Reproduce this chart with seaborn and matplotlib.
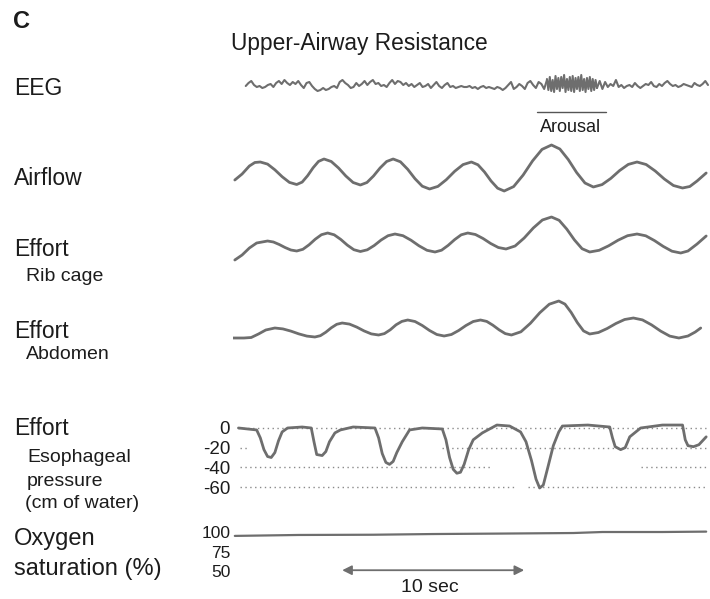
import numpy as np
import matplotlib
matplotlib.use("Agg")
import matplotlib.pyplot as plt
import seaborn as sns

# ---- data (time in seconds, amplitude in arbitrary units) ----
airflow_t = [0.1, 0.5, 0.9, 1.2, 1.5, 1.9, 2.3, 2.7, 3.1, 3.5, 3.8, 4.1, 4.4, 4.7, 5.0,
             5.4, 5.8, 6.2, 6.6, 7.0, 7.36, 7.72, 8.08, 8.44, 8.8, 9.2, 9.6, 10.0, 10.4, 10.8,
             11.26, 11.72, 12.18, 12.64, 13.1, 13.46, 13.82, 14.18, 14.54, 14.9,
             15.42, 15.94, 16.46, 16.98, 17.5, 17.96, 18.42, 18.88, 19.34, 19.8,
             20.28, 20.76, 21.24, 21.72, 22.2, 22.7, 23.2, 23.7, 24.2, 24.7, 25.1, 25.5, 26.0]
airflow_v = [-5, 1, 9, 12.5, 13, 10.9, 5.2, -1.7, -7.4, -9.5, -7.1, -0.7, 7.2, 13.6, 16,
             13.5, 7.0, -1.0, -7.5, -10, -7.5, -1.0, 7.0, 13.5, 16, 13.2, 5.7, -3.7, -11.2, -14,
             -11.4, -4.7, 3.7, 10.4, 13, 10.2, 3.0, -6.0, -13.2, -16,
             -11.6, -0.1, 14.1, 25.6, 30, 26.0, 15.5, 2.5, -8.0, -12,
             -9.6, -3.4, 4.4, 10.6, 13, 10.5, 4.0, -4.0, -10.5, -13, -11.5, -6, 2]

ribcage_t = [0.1, 0.5, 0.9, 1.3, 1.9, 2.22, 2.54, 2.86, 3.18, 3.5, 3.84, 4.18, 4.52, 4.86, 5.2,
             5.56, 5.92, 6.28, 6.64, 7.0, 7.38, 7.76, 8.14, 8.52, 8.9, 9.34, 9.78, 10.22, 10.66,
             11.1, 11.46, 11.82, 12.18, 12.54, 12.9, 13.32, 13.74, 14.16, 14.58, 15.0,
             15.5, 16.0, 16.5, 17.0, 17.5, 17.92, 18.34, 18.76, 19.18, 19.6,
             20.12, 20.64, 21.16, 21.68, 22.2, 22.68, 23.16, 23.64, 24.12, 24.6, 25.0, 25.5, 26.0]
ribcage_v = [-15, -10, -3, 2, 4, 3.0, 0.5, -2.5, -5.0, -6, -4.3, 0.2, 5.8, 10.3, 12,
             10.2, 5.6, -0.1, -4.7, -6.5, -4.8, -0.5, 5, 9.3, 11, 9.3, 4.8, -0.8, -5.3,
             -7, -5.2, -0.4, 5.4, 10.2, 12, 10.5, 6.5, 1.5, -2.5, -4,
             -1, 7, 17, 25, 28, 24.7, 15.9, 5.1, -3.7, -7,
             -5.3, -0.8, 4.8, 9.3, 11, 9.2, 4.4, -1.4, -6.2, -8, -6, 1, 9]

abdomen_t = [0.0, 0.6, 1.0, 1.4, 1.8, 2.3, 2.74, 3.18, 3.62, 4.06, 4.5, 4.8, 5.1, 5.4, 5.7, 6.0,
             6.4, 6.8, 7.2, 7.6, 8.0, 8.32, 8.64, 8.96, 9.28, 9.6, 10.0, 10.4, 10.8, 11.2, 11.6,
             12.0, 12.4, 12.8, 13.2, 13.6, 13.94, 14.28, 14.62, 14.96, 15.3,
             15.82, 16.34, 16.86, 17.38, 17.9, 18.24, 18.58, 18.92, 19.26, 19.6,
             20.08, 20.56, 21.04, 21.52, 22.0, 22.5, 23.0, 23.5, 24.0, 24.5, 25.0, 25.4, 25.7]
abdomen_v = [-13, -13, -12.5, -9, -5, -3, -3.9, -6.1, -8.9, -11.1, -12, -10.7, -7.2, -2.8, 0.7, 2,
             0.9, -2.1, -5.9, -8.9, -10, -8.6, -4.8, 0.2, 3.6, 5, 3.5, -0.5, -5.5, -9.5, -11,
             -9.5, -5.5, -0.5, 3.5, 5, 3.6, -0.2, -4.8, -8.6, -10,
             -6.8, 1.7, 12.3, 20.8, 24, 20.9, 12.6, 2.4, -5.9, -9,
             -7.5, -3.5, 1.5, 5.5, 7, 5.1, 0.1, -6.1, -11.1, -13, -11, -7, -3]

# esophageal pressure, cm of water
eso_t = [0.3, 1.3, 1.5, 1.7, 1.9, 2.1, 2.3, 2.5, 2.7, 3.0, 3.8, 4.3, 4.45, 4.6, 4.9, 5.1, 5.3,
         5.6, 5.9, 6.6, 7.8, 8.0, 8.2, 8.4, 8.6, 8.8, 9.0, 9.3, 9.7, 10.4, 11.5, 11.7, 11.9,
         12.1, 12.3, 12.5, 12.7, 12.95, 13.2, 13.7, 14.5, 15.2, 15.8, 16.1, 16.4, 16.65,
         16.85, 17.05, 17.3, 17.6, 17.9, 18.1, 19.5, 20.7, 20.85, 21.0, 21.3, 21.55, 21.8,
         22.4, 23.6, 24.7, 24.85, 25.0, 25.3, 25.6, 26.0]
eso_p = [0, -2, -10, -22, -29, -30, -25, -13, -4, 0, 1, 0, -14, -27, -28, -24, -14,
         -5, -2, 1, 0, -10, -26, -35, -37, -34, -25, -14, -2, 0, -1, -12, -30,
         -42, -46, -45, -37, -22, -12, -5, 3, 2, -4, -14, -33, -52,
         -61, -58, -40, -18, -4, 2, 3, 1, -10, -19, -22, -20, -9,
         0, 3, 3, -12, -18, -19, -17, -9]
eso_ticks = [0, -20, -40, -60]
eso_ref_level = [0, -20, -20, -40, -40, -60, -60]
eso_ref_start = [0.3, 0.4, 11.5, 0.4, 22.4, 0.4, 16.2]
eso_ref_end = [26.0, 0.9, 26.0, 14.1, 26.0, 15.6, 26.0]

# oxygen saturation, %
spo2_t = [0.1, 3.6, 7.7, 11.0, 14.8, 18.7, 20.3, 23.6, 26.0]
spo2_v = [95, 96.2, 96.5, 97.4, 98, 98.7, 100, 100, 100.5]
spo2_ticks = [100, 75, 50]

# EEG in three stretches: background, arousal burst, recovery
eeg_pre = [0, 3, 5, 1, -1, 0, -2, -1, 1, 2, -1, 3, 5, 2, 6, 3, 1, 4, 2, 5,
           1, -2, 3, 4, 0, -3, -5, -4, -2, -4, -3, -1, 0, -2, 4, 6, 3,
           1, -2, -1, 3, 0, 2, 5, 1, 4, 6, 2, 3, 0, 1, -1, 3, 6, 2, 5, 4,
           1, 3, 0, 2, -1, 1, 3, -1, 0, 2, -2, 1, 4, 0, -2, 1, 3, -1, 0, -2, -1, 0,
           -1, -1, 0, -2, -1, -3, -1, 0, -2, -1, -2, -3, -1, -2, -4, -2, 1, 4, -3, -1,
           2, 0, -3, 3, 5, 1, -2, 4, 2, -3, 6]
eeg_burst = [7, -4, 9, -5, 6, -6, 10, -3, 8, -5, 9, -2, 11, -6, 7, -4, 9, -5,
             10, -6, 8, -3, 9, -5, 11, -4, 7, -6, 8, -3, 9, -5, 7, -4, 6, -2]
eeg_post = [-2, 5, -3, 4, -1, 2, 0, 6, -1, 1, -2,
            0, 1, -1, 3, 0, -2, 0, 2, 1, 4, 0, -1, 2, 0, 3, 5, 2, 0, 1, -1, 0, 2, 1, 0,
            -1, 3, 1, 0, 2, 5, 1]
eeg_start = [0.7, 17.25, 20.0]
eeg_end = [17.25, 20.0, 26.1]
arousal_span = [16.7, 20.5]
scale_bar = [6.0, 16.0]

# ---- layout ----
W, H = 710, 599
TRACE = "#6e6e6e"
INK = "#1c1c1c"
XMAX = 26.21

sns.set_theme(style="white")
plt.rcParams["font.family"] = ["Liberation Sans", "DejaVu Sans"]

fig = plt.figure(figsize=(W / 100, H / 100), dpi=100)


def box(ytop, ybot, x0=233, x1=710):
    return [x0 / W, 1 - ybot / H, (x1 - x0) / W, (ybot - ytop) / H]


def trace_axes(ytop, ybot, ylim):
    ax = fig.add_axes(box(ytop, ybot))
    ax.set_xlim(0, XMAX)
    ax.set_ylim(*ylim)
    ax.patch.set_visible(False)
    ax.set_axis_off()
    return ax


def fig_text(x, y, s, size, **kw):
    fig.text(x / W, 1 - y / H, s, fontsize=size, color=INK, va="baseline", **kw)


# EEG
ax_eeg = trace_axes(60, 140, (-54, 26))
for vals, a, b in zip([eeg_pre, eeg_burst, eeg_post], eeg_start, eeg_end):
    tt = np.linspace(a, b, len(vals))
    sns.lineplot(x=tt, y=vals, ax=ax_eeg, color=TRACE, lw=1.5, estimator=None)
ax_eeg.plot(arousal_span, [-26, -26], color="#555555", lw=1.0)
ax_eeg.text(np.mean(arousal_span) - 0.05, -46, "Arousal", ha="center", va="baseline",
            fontsize=13, color=INK)

# Airflow
ax_air = trace_axes(135, 205, (-30, 40))
sns.lineplot(x=airflow_t, y=airflow_v, ax=ax_air, color=TRACE, lw=2.0, estimator=None)

# Rib cage
ax_rib = trace_axes(205, 280, (-35, 40))
sns.lineplot(x=ribcage_t, y=ribcage_v, ax=ax_rib, color=TRACE, lw=2.0, estimator=None)

# Abdomen
ax_abd = trace_axes(285, 360, (-35, 40))
sns.lineplot(x=abdomen_t, y=abdomen_v, ax=ax_abd, color=TRACE, lw=2.0, estimator=None)

# Esophageal pressure
ax_eso = fig.add_axes(box(415, 500))
ax_eso.set_xlim(0, XMAX)
ax_eso.set_ylim(-73.2, 13.2)
ax_eso.hlines(eso_ref_level, eso_ref_start, eso_ref_end, colors="#8a8a8a",
              linestyles=(0, (1, 2.5)), lw=1.0)
sns.lineplot(x=eso_t, y=eso_p, ax=ax_eso, color=TRACE, lw=2.0, estimator=None)

# Oxygen saturation
ax_o2 = fig.add_axes(box(520, 600))
ax_o2.set_xlim(0, XMAX)
ax_o2.set_ylim(12.8, 115.4)
sns.lineplot(x=spo2_t, y=spo2_v, ax=ax_o2, color=TRACE, lw=1.6, estimator=None)
ax_o2.annotate("", xy=(scale_bar[0], 51), xytext=(scale_bar[1], 51),
               arrowprops=dict(arrowstyle="<|-|>", color=TRACE, lw=1.3,
                               mutation_scale=14, shrinkA=0, shrinkB=0))
ax_o2.text(np.mean(scale_bar) - 0.2, 23, "10 sec", ha="center", va="baseline",
           fontsize=14, color=INK)

for ax, ticks, size in [(ax_eso, eso_ticks, 13.5), (ax_o2, spo2_ticks, 12.5)]:
    ax.patch.set_visible(False)
    for sp in ax.spines.values():
        sp.set_visible(False)
    ax.set_xticks([])
    ax.set_yticks(ticks)
    ax.set_yticklabels([str(t) for t in ticks])
    ax.tick_params(axis="y", length=0, pad=2, labelsize=size, labelcolor=INK)
    ax.set_xlabel("")
    ax.set_ylabel("")

# ---- text labels ----
fig_text(13, 28, "C", 17, fontweight="bold")
fig_text(359, 50, "Upper-Airway Resistance", 16.4, ha="center")
fig_text(14, 95, "EEG", 16.5)
fig_text(14, 185, "Airflow", 16.5)
fig_text(14, 256, "Effort", 16.5)
fig_text(26, 281, "Rib cage", 14)
fig_text(14, 338, "Effort", 16.5)
fig_text(26, 359, "Abdomen", 14)
fig_text(14, 435, "Effort", 16.5)
fig_text(27, 462, "Esophageal", 14)
fig_text(27, 486, "pressure", 14)
fig_text(25, 508, "(cm of water)", 14)
fig_text(14, 545, "Oxygen", 17)
fig_text(14, 575, "saturation (%)", 17)

fig.savefig("out.png", dpi=100, facecolor="white")
